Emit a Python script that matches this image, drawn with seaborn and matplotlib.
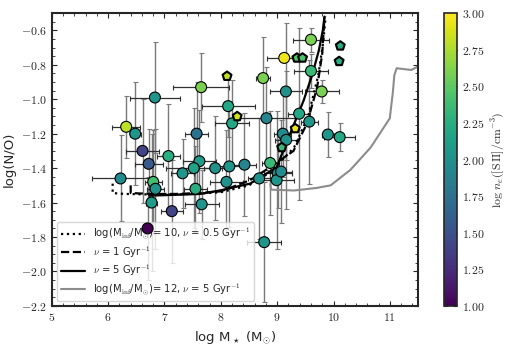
import numpy as np
import pandas as pd
import matplotlib
matplotlib.use('Agg')
import matplotlib.pyplot as plt
import seaborn as sns
from matplotlib.ticker import AutoMinorLocator, FormatStrFormatter, MultipleLocator

# ---- data ----
mass = [6.32, 6.48, 6.83, 7.65, 8.75, 8.13, 8.20, 8.81, 7.57, 6.61, 6.72, 7.07, 7.62, 7.52,
        7.32, 7.90, 8.15, 8.42, 6.22, 6.80, 6.84, 6.77, 7.13, 6.70, 7.66, 7.55, 8.10, 8.68,
        8.77, 8.875, 9.01, 8.99, 9.07, 9.60, 9.125, 9.60, 9.155, 9.79, 9.39, 9.57, 9.90,
        10.11, 9.10, 9.16]
log_no = [-1.16, -1.20, -0.99, -0.93, -0.877, -1.04, -1.14, -1.11, -1.20, -1.30, -1.375, -1.33,
          -1.36, -1.40, -1.43, -1.40, -1.39, -1.38, -1.46, -1.48, -1.52, -1.60, -1.65, -1.75,
          -1.61, -1.52, -1.48, -1.46, -1.83, -1.37, -1.43, -1.47, -1.42, -0.654, -0.76, -0.836,
          -0.955, -0.955, -1.084, -1.13, -1.205, -1.22, -1.20, -1.236]
log_ne = [2.80, 2.05, 2.05, 2.60, 2.60, 2.20, 2.20, 1.90, 1.75, 1.40, 1.55, 2.25, 2.10, 2.15,
          2.05, 2.00, 2.05, 1.90, 1.95, 2.40, 2.00, 2.10, 1.40, 1.00, 2.05, 2.25, 2.00, 2.00,
          2.05, 2.35, 1.95, 2.05, 1.95, 2.60, 2.95, 2.35, 2.00, 2.60, 2.20, 2.05, 2.05, 2.20,
          1.95, 2.00]
mass_err = [0.25, 0.10, 0.44, 0.50, 0.12, 0.47, 0.30, 0.50, 0.20, 0.30, 0.25, 0.20, 0.30, 0.50,
            0.20, 0.20, 0.30, 0.20, 0.50, 0.15, 0.15, 0.10, 0.20, 0.10, 0.30, 0.20, 0.30, 0.20,
            0.30, 0.15, 0.25, 0.30, 0.20, 0.32, 0.30, 0.30, 0.28, 0.30, 0.20, 0.15, 0.10, 0.28,
            0.15, 0.20]
no_err = [0.18, 0.30, 0.32, 0.20, 0.24, 0.18, 0.25, 0.30, 0.30, 0.30, 0.20, 0.30, 0.30, 0.35,
          0.20, 0.30, 0.35, 0.30, 0.25, 0.30, 0.35, 0.40, 0.30, 0.30, 0.20, 0.25, 0.30, 0.35,
          0.35, 0.30, 0.20, 0.40, 0.30, 0.07, 0.02, 0.10, 0.40, 0.065, 0.50, 0.36, 0.13, 0.08,
          0.25, 0.40]

pent_mass = [8.11, 8.29, 9.35, 9.45, 10.12, 10.10, 9.32, 9.08]
pent_no = [-0.866, -1.10, -0.76, -0.76, -0.69, -0.78, -1.17, -1.28]
pent_ne = [2.80, 2.85, 2.45, 2.45, 2.25, 2.25, 2.95, 2.35]

# chemical evolution models
dot_x = [6.08, 6.08, 6.3, 7.0, 7.5, 8.0, 8.5, 8.9, 9.3, 9.55, 9.73, 9.82, 9.86]
dot_y = [-1.49, -1.545, -1.55, -1.555, -1.55, -1.54, -1.50, -1.42, -1.28, -1.10, -0.86, -0.66, -0.52]
dash_x = [6.4, 6.4, 6.8, 7.2, 7.6, 8.0, 8.52, 8.875, 9.29, 9.53, 9.71, 9.80, 9.84]
dash_y = [-1.50, -1.545, -1.55, -1.55, -1.545, -1.535, -1.47, -1.395, -1.30, -1.14, -0.93, -0.735, -0.52]
solid_x = [6.73, 7.2, 7.63, 7.98, 8.52, 8.99, 9.23, 9.47, 9.62, 9.74, 9.81, 9.84]
solid_y = [-1.56, -1.555, -1.55, -1.53, -1.49, -1.395, -1.20, -1.007, -0.86, -0.716, -0.60, -0.52]
gray_x = [8.88, 8.89, 9.3, 9.7, 9.95, 10.3, 10.66, 11.0, 11.02, 11.05, 11.08, 11.12, 11.25, 11.38, 11.5]
gray_y = [-1.49, -1.525, -1.53, -1.515, -1.50, -1.41, -1.28, -1.11, -1.05, -0.97, -0.86, -0.82, -0.825, -0.83, -0.81]

df = pd.DataFrame({'mass': mass, 'no': log_no, 'ne': log_ne})
dfp = pd.DataFrame({'mass': pent_mass, 'no': pent_no, 'ne': pent_ne})

# ---- style ----
sns.set_style('ticks')
plt.rcParams['font.family'] = ['DejaVu Sans']
plt.rcParams['mathtext.fontset'] = 'cm'
plt.rcParams['xtick.direction'] = 'in'
plt.rcParams['ytick.direction'] = 'in'
plt.rcParams['xtick.top'] = True
plt.rcParams['ytick.right'] = True

fig = plt.figure(figsize=(5.18, 3.46), dpi=100)
ax = fig.add_axes([0.1, 0.116, 0.707, 0.846])
cax = fig.add_axes([0.857, 0.116, 0.025, 0.846])

norm = plt.Normalize(1, 3)
cmap = plt.get_cmap('viridis')

# error bars
ax.errorbar(mass, log_no, yerr=no_err, fmt='none', ecolor='#7a7a7a', elinewidth=1.0,
            capsize=1.8, capthick=0.8, zorder=1)
ax.errorbar(mass, log_no, xerr=mass_err, fmt='none', ecolor='#303030', elinewidth=0.9,
            capsize=1.8, capthick=0.8, zorder=1)

# models
ax.plot(dot_x, dot_y, color='k', ls=':', lw=1.6, zorder=2,
        label=r'log(M$_{\rm inf}$/M$_{\odot}$)= 10, $\nu$ = 0.5 Gyr$^{-1}$')
ax.plot(dash_x, dash_y, color='k', ls='--', lw=1.6, zorder=2, label=r'$\nu$ = 1 Gyr$^{-1}$')
ax.plot(solid_x, solid_y, color='k', ls='-', lw=1.6, zorder=2, label=r'$\nu$ = 5 Gyr$^{-1}$')
ax.plot(gray_x, gray_y, color='#8c8c8c', ls='-', lw=1.5, zorder=2,
        label=r'log(M$_{\rm inf}$/M$_{\odot}$)= 12, $\nu$ = 5 Gyr$^{-1}$')

# points
sns.scatterplot(data=df, x='mass', y='no', hue='ne', palette='viridis', hue_norm=norm,
                s=62, edgecolor='k', linewidth=0.8, legend=False, ax=ax, zorder=3)
sns.scatterplot(data=dfp, x='mass', y='no', hue='ne', palette='viridis', hue_norm=norm,
                marker='p', s=45, edgecolor='k', linewidth=1.5, legend=False, ax=ax, zorder=4)

ax.set_xlim(5, 11.5)
ax.set_ylim(-2.2, -0.5)
ax.xaxis.set_major_locator(MultipleLocator(1))
ax.yaxis.set_major_locator(MultipleLocator(0.2))
ax.xaxis.set_minor_locator(AutoMinorLocator(5))
ax.yaxis.set_minor_locator(AutoMinorLocator(4))
ax.xaxis.set_major_formatter(FormatStrFormatter('$%d$'))
ax.yaxis.set_major_formatter(FormatStrFormatter('$%.1f$'))
ax.tick_params(which='both', direction='in', top=True, right=True, labelsize=8.5)
ax.tick_params(which='major', length=3.5, width=0.8)
ax.tick_params(which='minor', length=2, width=0.6)
for sp in ax.spines.values():
    sp.set_linewidth(1.5)

ax.set_xlabel(r'log M$_\star$ (M$_{\odot}$)', fontsize=9.5)
ax.set_ylabel('log(N/O)', fontsize=9.5)

leg = ax.legend(loc='lower left', fontsize=7.2, frameon=True, handlelength=2.4,
                borderaxespad=0.5, labelspacing=0.3)
leg.get_frame().set_edgecolor('#cccccc')
leg.set_zorder(2.5)

# colorbar
sm = plt.cm.ScalarMappable(norm=norm, cmap=cmap)
cb = fig.colorbar(sm, cax=cax)
cb.set_ticks(np.arange(1, 3.01, 0.25))
cb.ax.yaxis.set_major_formatter(FormatStrFormatter('$%.2f$'))
cb.ax.tick_params(labelsize=8.5, direction='in', length=3, width=0.8, right=True, left=True)
cb.outline.set_linewidth(1.2)
cb.set_label(r'$\log\,n_e({\rm [S\,II]/cm^{-3}})$', fontsize=8.5)

plt.savefig('out.png', dpi=100)
